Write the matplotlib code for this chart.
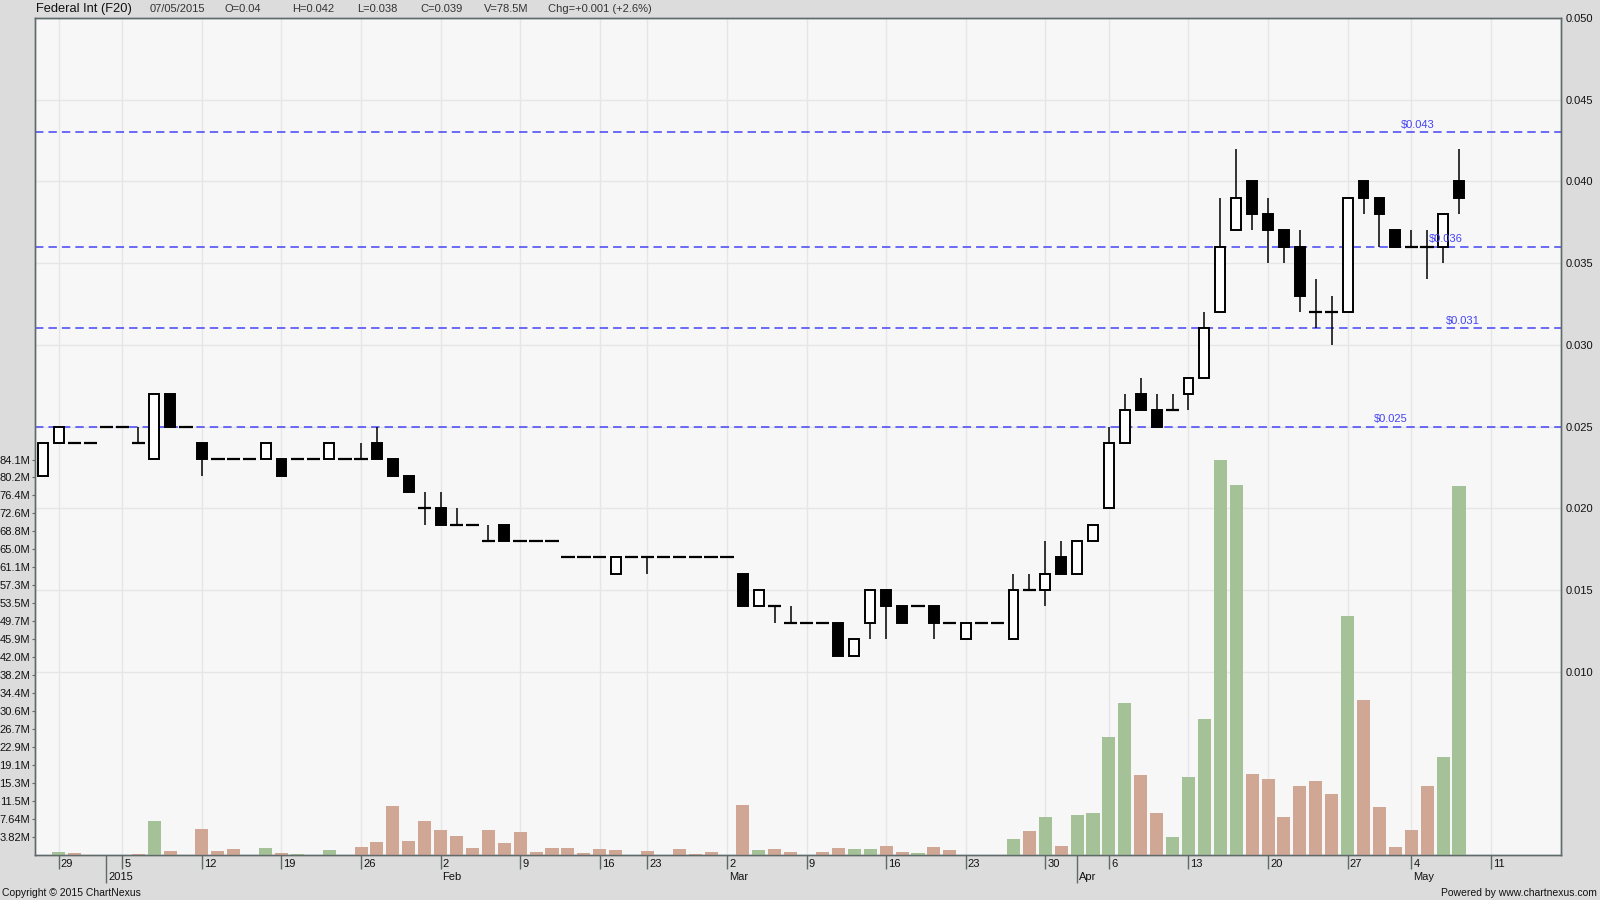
import numpy as np
import pandas as pd
import matplotlib
matplotlib.use("Agg")
import matplotlib.pyplot as plt
from matplotlib.transforms import ScaledTranslation

plt.rcParams['font.family'] = ['Liberation Sans', 'DejaVu Sans']

# trading calendar (SGX), Dec 26 2014 .. May 15 2015
holidays = ['2015-01-01', '2015-02-19', '2015-02-20', '2015-04-03', '2015-05-01']
days = pd.bdate_range('2014-12-26', '2015-05-15', freq='C', holidays=holidays)

opens = [0.022, 0.024, 0.024, 0.024, 0.025, 0.025, 0.024, 0.023, 0.027, 0.025,
         0.024, 0.023, 0.023, 0.023, 0.023, 0.023, 0.023, 0.023, 0.023, 0.023,
         0.023, 0.024, 0.023, 0.022, 0.020, 0.020, 0.019, 0.019, 0.018, 0.019,
         0.018, 0.018, 0.018, 0.017, 0.017, 0.017, 0.016, 0.017, 0.017, 0.017,
         0.017, 0.017, 0.017, 0.017, 0.016, 0.014, 0.014, 0.013, 0.013, 0.013,
         0.013, 0.011, 0.013, 0.015, 0.014, 0.014, 0.014, 0.013, 0.012, 0.013,
         0.013, 0.012, 0.015, 0.015, 0.017, 0.016, 0.018, 0.020, 0.024, 0.027,
         0.026, 0.026, 0.027, 0.028, 0.032, 0.037, 0.040, 0.038, 0.037, 0.036,
         0.032, 0.032, 0.032, 0.040, 0.039, 0.037, 0.036, 0.036, 0.036, 0.040]
highs = [0.024, 0.025, 0.024, 0.024, 0.025, 0.025, 0.025, 0.027, 0.027, 0.025,
         0.024, 0.023, 0.023, 0.023, 0.024, 0.023, 0.023, 0.023, 0.024, 0.023,
         0.024, 0.025, 0.023, 0.022, 0.021, 0.021, 0.020, 0.019, 0.019, 0.019,
         0.018, 0.018, 0.018, 0.017, 0.017, 0.017, 0.017, 0.017, 0.017, 0.017,
         0.017, 0.017, 0.017, 0.017, 0.016, 0.015, 0.014, 0.014, 0.013, 0.013,
         0.013, 0.012, 0.015, 0.015, 0.014, 0.014, 0.014, 0.013, 0.013, 0.013,
         0.013, 0.016, 0.016, 0.018, 0.018, 0.018, 0.019, 0.025, 0.027, 0.028,
         0.027, 0.027, 0.028, 0.032, 0.039, 0.042, 0.040, 0.039, 0.037, 0.037,
         0.034, 0.033, 0.039, 0.040, 0.039, 0.037, 0.037, 0.037, 0.038, 0.042]
lows = [0.022, 0.024, 0.024, 0.024, 0.025, 0.025, 0.024, 0.023, 0.025, 0.025,
        0.022, 0.023, 0.023, 0.023, 0.023, 0.022, 0.023, 0.023, 0.023, 0.023,
        0.023, 0.023, 0.022, 0.021, 0.019, 0.019, 0.019, 0.019, 0.018, 0.018,
        0.018, 0.018, 0.018, 0.017, 0.017, 0.017, 0.016, 0.017, 0.016, 0.017,
        0.017, 0.017, 0.017, 0.017, 0.014, 0.014, 0.013, 0.013, 0.013, 0.013,
        0.011, 0.011, 0.012, 0.012, 0.013, 0.014, 0.012, 0.013, 0.012, 0.013,
        0.013, 0.012, 0.015, 0.014, 0.016, 0.016, 0.018, 0.020, 0.024, 0.026,
        0.025, 0.026, 0.026, 0.028, 0.032, 0.037, 0.037, 0.035, 0.035, 0.032,
        0.031, 0.030, 0.032, 0.038, 0.036, 0.036, 0.036, 0.034, 0.035, 0.038]
closes = [0.024, 0.025, 0.024, 0.024, 0.025, 0.025, 0.024, 0.027, 0.025, 0.025,
          0.023, 0.023, 0.023, 0.023, 0.024, 0.022, 0.023, 0.023, 0.024, 0.023,
          0.023, 0.023, 0.022, 0.021, 0.020, 0.019, 0.019, 0.019, 0.018, 0.018,
          0.018, 0.018, 0.018, 0.017, 0.017, 0.017, 0.017, 0.017, 0.017, 0.017,
          0.017, 0.017, 0.017, 0.017, 0.014, 0.015, 0.014, 0.013, 0.013, 0.013,
          0.011, 0.012, 0.015, 0.014, 0.013, 0.014, 0.013, 0.013, 0.013, 0.013,
          0.013, 0.015, 0.015, 0.016, 0.016, 0.018, 0.019, 0.024, 0.026, 0.026,
          0.025, 0.026, 0.028, 0.031, 0.036, 0.039, 0.038, 0.037, 0.036, 0.033,
          0.032, 0.032, 0.039, 0.039, 0.038, 0.036, 0.036, 0.036, 0.038, 0.039]
# volume in millions of shares
volumes = [0, 0.71, 0.50, 0, 0, 0, 0.28, 7.30, 0.92, 0,
           5.60, 0.92, 1.35, 0, 1.56, 0.50, 0.28, 0, 1.13, 0,
           1.77, 2.84, 10.5, 3.05, 7.30, 5.39, 4.11, 1.56, 5.39, 2.62,
           4.96, 0.71, 1.56, 1.56, 0.50, 1.35, 1.13, 0, 0.92, 0,
           1.35, 0.28, 0.71, 0, 10.7, 1.13, 1.35, 0.71, 0, 0.71,
           1.56, 1.35, 1.35, 1.99, 0.71, 0.50, 1.77, 1.13, 0, 0,
           0, 3.47, 5.17, 8.15, 1.98, 8.57, 9.0, 25.15, 32.4, 17.1,
           9.0, 3.9, 16.65, 29.0, 84.07, 78.7, 17.3, 16.2, 8.15, 14.7,
           15.8, 13.0, 50.9, 33.0, 10.3, 1.77, 5.4, 14.7, 20.9, 78.5]

levels = [0.043, 0.036, 0.031, 0.025]
level_label_x = [86.4, 88.2, 89.25, 84.7]

o = np.array(opens); h = np.array(highs); l = np.array(lows); c = np.array(closes)
vol = np.array(volumes)
x = np.arange(len(c))

blue = '#4343F5'
spine_col = '#5F6B6B'
green = '#A5C197'
red = '#D0A694'

fig = plt.figure(figsize=(16, 9), dpi=100, facecolor='#DCDCDC')
ax = fig.add_axes([35/1600, 45/900, 1526/1600, 837.2/900])
ax.set_facecolor('#F7F7F7')
ax.set_xlim(-0.49, 95.41)
ax.set_ylim(-0.0012, 0.050)

# volume on a twin axis (created first so the price axis can be moved right afterwards)
axv = ax.twinx()
axv.patch.set_visible(False)

# weekly ticks and month separators
idx = pd.Series(np.arange(len(days)), index=days)
week_first = idx.groupby(days.to_period('W')).min()
week_first = week_first[week_first > 0]
month_first = idx.groupby(days.to_period('M')).min()
month_first = month_first[month_first > 0]

ax.set_xticks(week_first.values)
ax.set_xticklabels([])
ax.set_xticks(month_first.values, minor=True)
ax.tick_params(axis='x', which='major', length=10, color=spine_col, width=1)
ax.tick_params(axis='x', which='minor', length=20, color=spine_col, width=1)

off_day = ScaledTranslation(2/100, -9/100, fig.dpi_scale_trans)
off_mon = ScaledTranslation(2/100, -22/100, fig.dpi_scale_trans)
for i in week_first.values:
    ax.text(i, 0, str(days[i].day), transform=ax.get_xaxis_transform() + off_day,
            ha='left', va='center', fontsize=8, color='#111111')
for i in month_first.values:
    lab = str(days[i].year) if days[i].month == 1 else days[i].strftime('%b')
    ax.text(i, 0, lab, transform=ax.get_xaxis_transform() + off_mon,
            ha='left', va='center', fontsize=8, color='#111111')

# price axis on the right
ax.yaxis.tick_right()
pt = np.arange(0.010, 0.0501, 0.005)
ax.set_yticks(pt)
ax.set_yticklabels([f"{v:.3f}" for v in pt])
ax.tick_params(axis='y', which='both', left=False, labelleft=False, right=True, labelright=True,
               length=0, pad=3, labelsize=8, labelcolor='#111111')
ax.grid(True, axis='both', which='major', color='#E6E6E6', lw=1)
ax.set_axisbelow(True)

# candles
up = c > o + 1e-9
dn = c < o - 1e-9
flat = ~(up | dn)
ax.vlines(x, l, h, color='black', lw=1.1, zorder=2)
ax.bar(x[up], (c - o)[up], bottom=o[up], width=0.62, facecolor='white',
       edgecolor='black', lw=1.4, zorder=3)
ax.bar(x[dn], (o - c)[dn], bottom=c[dn], width=0.62, facecolor='black',
       edgecolor='black', lw=1.4, zorder=3)
ax.hlines(o[flat], x[flat] - 0.42, x[flat] + 0.42, color='black', lw=1.6, zorder=3)

# support / resistance
for lvl, lx in zip(levels, level_label_x):
    ax.axhline(lvl, color=blue, lw=1.1, ls=(0, (5.5, 3.3)), zorder=1.5)
    ax.text(lx, lvl, f"${lvl:.3f}", ha='center', va='center', fontsize=8, color=blue,
            transform=ax.transData + ScaledTranslation(0, 7.5/100, fig.dpi_scale_trans))

# volume bars, ticks on the left
vmax = vol.max()
axv.set_ylim(0, vmax * 837.2 / 395.5)
rising = np.r_[False, np.round(c[1:] * 1000) > np.round(c[:-1] * 1000)]
axv.bar(x, vol, width=0.82, color=np.where(rising, green, red), zorder=2)
vt = vmax / 22 * np.arange(1, 23)
axv.yaxis.tick_left()
axv.set_yticks(vt)
axv.set_yticklabels([(f"{v:.2f}M" if v < 10 else f"{v:.1f}M") for v in vt])
axv.tick_params(axis='y', which='both', right=False, labelright=False, left=True, labelleft=True,
                length=2.5, pad=1, labelsize=8, color=spine_col, labelcolor='#111111')

for a in (ax, axv):
    for s in a.spines.values():
        s.set_color(spine_col)
        s.set_linewidth(1)

# header and footer
last = len(c) - 1
chg = c[last] - c[last - 1]
fig.text(36/1600, 1 - 9/900, 'Federal Int (F20)', fontsize=9.3, va='center', color='#111111')
header = [days[last].strftime('%d/%m/%Y'), f"O={o[last]:g}", f"H={h[last]:g}",
          f"L={l[last]:g}", f"C={c[last]:g}", f"V={vol[last]:.1f}M",
          f"Chg={chg:+.3f} ({chg / c[last - 1] * 100:+.1f}%)"]
header_x = [150, 224, 292, 357, 420, 484, 548]
for t, hx in zip(header, header_x):
    fig.text(hx/1600, 1 - 9/900, t, fontsize=8, va='center', color='#333333')
fig.text(2/1600, 7/900, 'Copyright \u00a9 2015 ChartNexus', fontsize=7.5, va='center', color='#111111')
fig.text(1597/1600, 7/900, 'Powered by www.chartnexus.com', fontsize=7.5, va='center',
         ha='right', color='#111111')

fig.savefig('out.png', dpi=100, facecolor=fig.get_facecolor())
